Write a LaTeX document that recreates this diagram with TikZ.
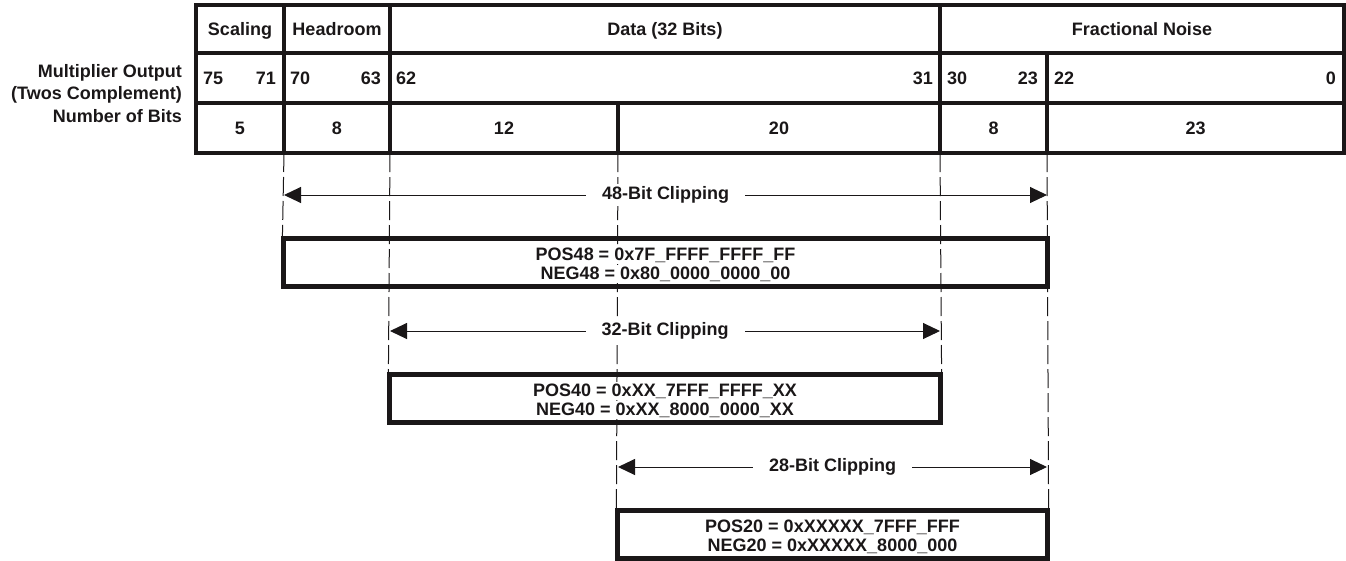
\documentclass[tikz,border=0pt]{standalone}
\usepackage{fontspec}
\setmainfont{Liberation Sans}
\usetikzlibrary{arrows.meta}
\definecolor{ink}{HTML}{1A1718}
\begin{document}
\begin{tikzpicture}[x=1pt,y=-1pt,
  lbl/.style={font=\fontsize{18}{21}\selectfont\bfseries, text=ink, inner sep=0pt},
  gridline/.style={line width=3.2pt, draw=ink, line cap=rect},
  guide/.style={line width=1pt, draw=ink, dash pattern=on 19pt off 5pt},
  dimline/.style={line width=1pt, draw=ink, {Triangle[length=17pt,width=16pt]}-{Triangle[length=17pt,width=16pt]}},
  dimlabel/.style={lbl, fill=white, inner xsep=16pt, inner ysep=3pt},
  limbox/.style={line width=3.2pt, draw=ink, inner sep=0pt},
  limtext/.style={lbl, fill=white, inner xsep=2pt, inner ysep=1.5pt},
]
\useasboundingbox (0,0) rectangle (1346,560);

% ---------------- table grid ----------------
\coordinate (T0) at (196,5);
\coordinate (T1) at (1344,153);
\draw[gridline] (T0) rectangle (T1);
\draw[gridline] (196,53) -- (1344,53);
\draw[gridline] (196,103) -- (1344,103);
\draw[gridline] (284,5) -- (284,153);
\draw[gridline] (390,5) -- (390,153);
\draw[gridline] (940,5) -- (940,153);
\draw[gridline] (1047,53) -- (1047,153);
\draw[gridline] (618,103) -- (618,153);

% ---------------- row labels ----------------
\node[lbl, anchor=base east] (rl1) at (182,77.5) {Multiplier Output};
\node[lbl, anchor=base east] (rl2) at (182,99.5) {(Twos Complement)};
\node[lbl, anchor=base east] (rl3) at (182,122) {Number of Bits};

% ---------------- row 1 ----------------
\node[lbl, anchor=base] (h1) at (240,35.4) {Scaling};
\node[lbl, anchor=base] (h2) at (337,35.4) {Headroom};
\node[lbl, anchor=base] (h3) at (665,35.4) {Data (32 Bits)};
\node[lbl, anchor=base] (h4) at (1142,35.4) {Fractional Noise};

% ---------------- row 2 ----------------
\node[lbl, anchor=base west] (b75) at (203,84.5) {75};
\node[lbl, anchor=base east] (b71) at (276,84.5) {71};
\node[lbl, anchor=base west] (b70) at (290,84.5) {70};
\node[lbl, anchor=base east] (b63) at (381,84.5) {63};
\node[lbl, anchor=base west] (b62) at (396,84.5) {62};
\node[lbl, anchor=base east] (b31) at (933,84.5) {31};
\node[lbl, anchor=base west] (b30) at (947,84.5) {30};
\node[lbl, anchor=base east] (b23) at (1038,84.5) {23};
\node[lbl, anchor=base west] (b22) at (1054,84.5) {22};
\node[lbl, anchor=base east] (b0) at (1336,84.5) {0};

% ---------------- row 3 ----------------
\node[lbl, anchor=base] (n5) at (240,134.4) {5};
\node[lbl, anchor=base] (n8a) at (337,134.4) {8};
\node[lbl, anchor=base] (n12) at (504,134.4) {12};
\node[lbl, anchor=base] (n20) at (779,134.4) {20};
\node[lbl, anchor=base] (n8b) at (993.5,134.4) {8};
\node[lbl, anchor=base] (n23) at (1195.5,134.4) {23};

% ---------------- clipping boxes ----------------
\node[limbox, minimum width=763pt, minimum height=47pt] (box48) at (665.5,262.5) {};
\node[limbox, minimum width=550pt, minimum height=47pt] (box40) at (665,398.5) {};
\node[limbox, minimum width=429pt, minimum height=47pt] (box20) at (832.5,534.5) {};

% ---------------- guide lines ----------------
\coordinate (g1) at (284,153);
\coordinate (g2) at (390,153);
\coordinate (g3) at (618,153);
\coordinate (g4) at (940,153);
\coordinate (g5) at (1047,153);
\draw[guide] (g1) -- (box48.north west);
\draw[guide] (g2) -- (box40.north west);
\draw[guide] (g3) -- (box20.north west);
\draw[guide] (g4) -- (box40.north east);
\draw[guide] (g5) -- (box20.north east);

% ---------------- dimension arrows ----------------
\coordinate (a48l) at (284,195);
\coordinate (a48r) at (1047,195);
\coordinate (a32l) at (390,331);
\coordinate (a32r) at (940,331);
\coordinate (a28l) at (618,467);
\coordinate (a28r) at (1047,467);
\draw[dimline] (a48l) -- (a48r) node[dimlabel, midway] (c48) {48-Bit Clipping};
\draw[dimline] (a32l) -- (a32r) node[dimlabel, midway] (c32) {32-Bit Clipping};
\draw[dimline] (a28l) -- (a28r) node[dimlabel, midway] (c28) {28-Bit Clipping};

% redraw box outlines above guides
\draw[limbox] (box48.north west) rectangle (box48.south east);
\draw[limbox] (box40.north west) rectangle (box40.south east);
\draw[limbox] (box20.north west) rectangle (box20.south east);

% ---------------- box texts ----------------
\node[limtext, anchor=base] (p48) at (665.5,260.5) {POS48 = 0x7F\_FFFF\_FFFF\_FF};
\node[limtext, anchor=base] (m48) at (665.5,279) {NEG48 = 0x80\_0000\_0000\_00};
\node[limtext, anchor=base] (p40) at (665,396.5) {POS40 = 0xXX\_7FFF\_FFFF\_XX};
\node[limtext, anchor=base] (m40) at (665,415) {NEG40 = 0xXX\_8000\_0000\_XX};
\node[limtext, anchor=base] (p20) at (832.5,532.5) {POS20 = 0xXXXXX\_7FFF\_FFF};
\node[limtext, anchor=base] (m20) at (832.5,551) {NEG20 = 0xXXXXX\_8000\_000};
\end{tikzpicture}
\end{document}
